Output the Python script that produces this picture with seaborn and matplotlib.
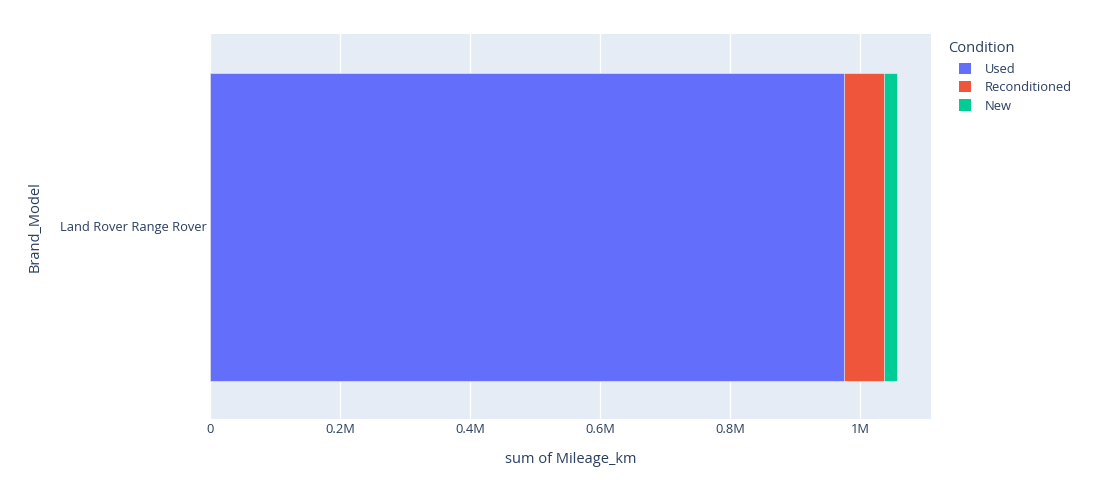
import pandas as pd
import seaborn as sns
import matplotlib.pyplot as plt
from matplotlib.patches import Patch
from matplotlib.ticker import FuncFormatter

# Data
brand_model = ["Land Rover Range Rover"]
conditions = ["Used", "Reconditioned", "New"]
mileage_km = [975400, 61500, 19600]
colors = ["#636efa", "#EF553B", "#00cc96"]

df = pd.DataFrame({
    "Brand_Model": brand_model * len(conditions),
    "Condition": conditions,
    "Mileage_km": mileage_km,
})
df["cum"] = df["Mileage_km"].cumsum()

sns.set_style("white")
plt.rcParams["font.family"] = ["Open Sans", "DejaVu Sans"]
text_col = "#2a3f5f"

fig = plt.figure(figsize=(10.97, 4.8), dpi=100)
ax = fig.add_axes([210 / 1097, 1 - 419 / 480, (931 - 210) / 1097, (419 - 34) / 480])
ax.set_facecolor("#E5ECF6")

# stacked bars: draw cumulative totals back to front
for i in reversed(range(len(conditions))):
    row = df.iloc[[i]]
    sns.barplot(data=row, x="cum", y="Brand_Model", orient="h", color=colors[i],
                width=0.8, saturation=1, edgecolor="#E5ECF6", linewidth=0.5, ax=ax)

ax.set_xlim(0, df["cum"].iloc[-1] * 1.05)
ax.set_ylim(0.5, -0.5)
ax.set_xticks([0, 200000, 400000, 600000, 800000, 1000000])
ax.xaxis.set_major_formatter(FuncFormatter(lambda v, p: "0" if v == 0 else ("1M" if v == 1e6 else f"{v/1e6:.1f}M")))
ax.grid(axis="x", color="white", linewidth=1)
ax.set_axisbelow(True)
for s in ax.spines.values():
    s.set_visible(False)
ax.tick_params(axis="both", length=0, labelsize=9.3, colors=text_col)
ax.tick_params(axis="x", pad=3)
ax.tick_params(axis="y", pad=2)
ax.set_xlabel("sum of Mileage_km", fontsize=10.5, color=text_col)
ax.xaxis.set_label_coords(0.5, -0.085)
ax.set_ylabel("Brand_Model", fontsize=10.5, color=text_col)
ax.yaxis.set_label_coords(-0.232, 0.5)

# legend title placed separately (plotly puts it left of the swatches)
fig.text(948 / 1097, 1 - 48 / 480, "Condition", fontsize=10.5, color=text_col,
         ha="left", va="center")
handles = [Patch(facecolor=c, edgecolor="none") for c in colors]
leg = fig.legend(handles, conditions, loc="upper left",
                 bbox_to_anchor=(947 / 1097, 1 - 51 / 480), frameon=False,
                 fontsize=9.3, handlelength=0.95, handleheight=0.95,
                 handletextpad=1.1, labelspacing=0.42)
for t in leg.get_texts():
    t.set_color(text_col)

fig.savefig("out.png", dpi=100)
